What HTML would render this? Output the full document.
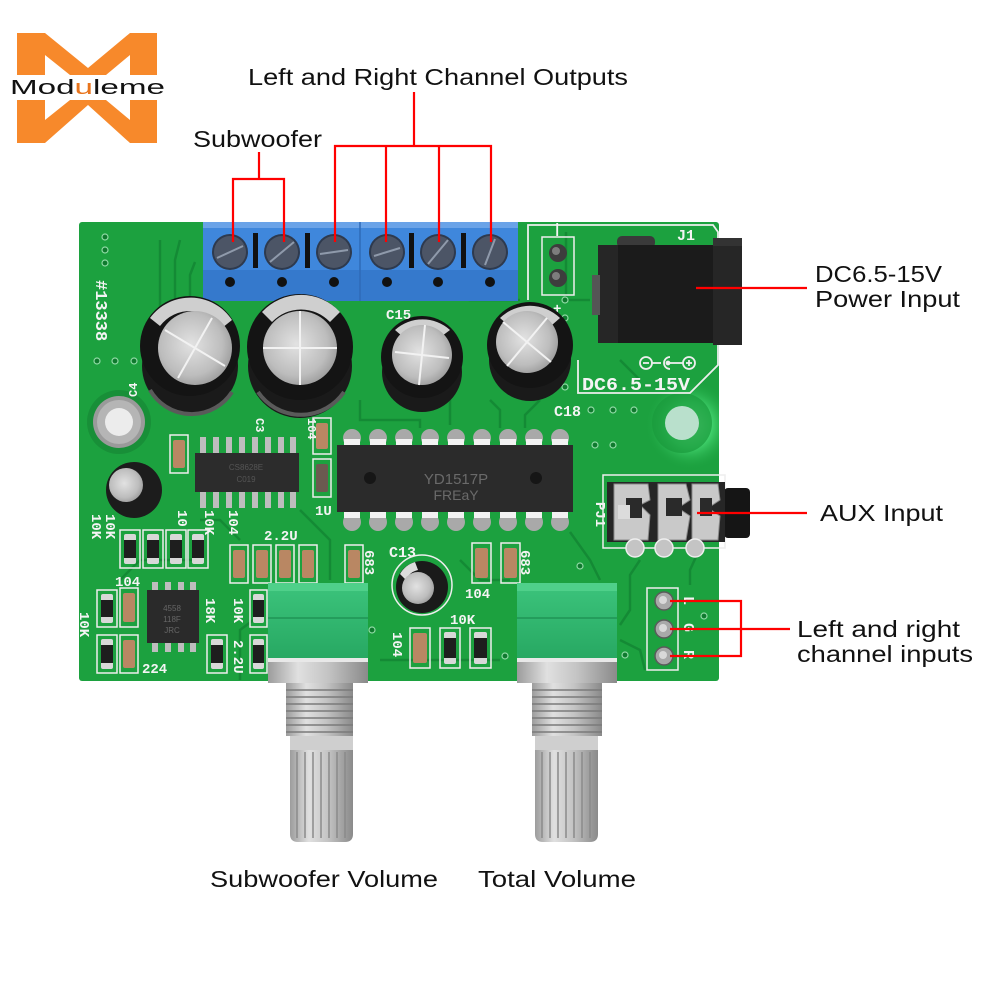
<!DOCTYPE html>
<html><head><meta charset="utf-8"><style>
html,body{margin:0;padding:0;background:#fff;}
svg{display:block;}
.lbl{font-family:"Liberation Sans",sans-serif;fill:#111;font-size:23px;}
.silk{font-family:"Liberation Mono","Liberation Sans",monospace;fill:#f4f4f4;font-weight:bold;}
</style></head><body>
<svg width="1000" height="1000" viewBox="0 0 1000 1000" xmlns="http://www.w3.org/2000/svg">
<defs>
<radialGradient id="silv" cx="0.45" cy="0.45" r="0.6">
<stop offset="0" stop-color="#e2e2e2"/><stop offset="0.7" stop-color="#bdbdbd"/><stop offset="1" stop-color="#9a9a9a"/>
</radialGradient>
<radialGradient id="glow" cx="0.5" cy="0.5" r="0.5">
<stop offset="0" stop-color="#7ef0a0"/><stop offset="0.5" stop-color="#3fcf6a"/><stop offset="1" stop-color="#1ca13f" stop-opacity="0"/>
</radialGradient>
<linearGradient id="metal" x1="0" x2="1" y1="0" y2="0">
<stop offset="0" stop-color="#9c9c9c"/><stop offset="0.3" stop-color="#e0e0e0"/><stop offset="0.6" stop-color="#c4c4c4"/><stop offset="1" stop-color="#8a8a8a"/>
</linearGradient>
<linearGradient id="potg" x1="0" x2="0" y1="0" y2="1">
<stop offset="0" stop-color="#3cc47c"/><stop offset="1" stop-color="#27a862"/>
</linearGradient>
<clipPath id="boardclip"><rect x="79" y="222" width="640" height="459"/></clipPath>
</defs>

<rect width="1000" height="1000" fill="#fff"/>

<!-- LOGO -->
<g fill="#f7892b">
<polygon points="17,33 45,33 88,68 130,33 157,33 157,75 130,75 130,55 106,75 70,75 45,55 45,75 17,75"/>
<polygon points="17,143 45,143 88,105 130,143 157,143 157,100 130,100 130,120 106,100 70,100 45,120 45,100 17,100"/>
</g>
<text x="10" y="94" font-family="Liberation Sans,sans-serif" font-size="20" textLength="155" lengthAdjust="spacingAndGlyphs" fill="#111">Mod<tspan fill="#e8741c">u</tspan>leme</text>

<!-- TOP LABELS -->
<text class="lbl" x="248" y="85" textLength="380" lengthAdjust="spacingAndGlyphs">Left and Right Channel Outputs</text>
<text class="lbl" x="193" y="147" textLength="129" lengthAdjust="spacingAndGlyphs">Subwoofer</text>

<!-- BOARD -->
<rect x="79" y="222" width="640" height="459" rx="3" fill="#1ca13f"/>
<g clip-path="url(#boardclip)">
<circle cx="690" cy="425" r="45" fill="url(#glow)"/>
</g>
<!-- traces / pours -->
<g fill="none" stroke="#138533" stroke-width="2.5" opacity="0.8">
<path d="M160 240 L160 320 L150 330"/>
<path d="M180 240 L175 260 L175 300"/>
<path d="M195 262 L190 275 L190 300"/>
<path d="M360 400 L360 420 L420 420 L420 428"/>
<path d="M450 395 L450 425"/>
<path d="M490 400 L500 410 L500 428"/>
<path d="M540 400 L525 415 L525 428"/>
<path d="M566 232 L566 300 L590 300"/>
<path d="M620 360 L640 380"/>
<path d="M200 520 L220 520 L240 540"/>
<path d="M300 510 L330 540 L330 580"/>
<path d="M120 580 L140 560 L200 560"/>
<path d="M640 560 L630 575 L630 610 L620 625"/>
<path d="M700 548 L690 570 L690 585"/>
<path d="M620 640 L640 650 L645 670"/>
<path d="M460 560 L480 580 L510 580"/>
<path d="M380 660 L500 660"/>
<path d="M240 680 L240 630 L260 615"/>
<path d="M570 532 L590 560 L600 580"/>
<path d="M470 270 L470 300 L520 300"/>
</g>

<!-- vias -->
<g fill="#0f7a2e" stroke="#8fd9a4" stroke-width="1.2">
<circle cx="105" cy="237" r="3"/><circle cx="105" cy="250" r="3"/><circle cx="105" cy="263" r="3"/>
<circle cx="97" cy="361" r="3"/><circle cx="115" cy="361" r="3"/><circle cx="134" cy="361" r="3"/>
<circle cx="591" cy="410" r="3"/><circle cx="613" cy="410" r="3"/><circle cx="634" cy="410" r="3"/>
<circle cx="595" cy="445" r="3"/><circle cx="613" cy="445" r="3"/>
<circle cx="704" cy="616" r="3"/><circle cx="625" cy="655" r="3"/>
<circle cx="565" cy="300" r="3"/><circle cx="565" cy="318" r="3"/>
<circle cx="565" cy="370" r="3"/><circle cx="565" cy="387" r="3"/>
<circle cx="580" cy="566" r="3"/><circle cx="372" cy="630" r="3"/><circle cx="505" cy="656" r="3"/>
</g>

<!-- mounting holes -->
<circle cx="119" cy="422" r="32" fill="#188f38"/>
<circle cx="119" cy="422" r="26" fill="#9a9a9a"/>
<circle cx="119" cy="422" r="22" fill="#b5b5b5"/>
<circle cx="119" cy="422" r="14" fill="#ececec"/>
<circle cx="682" cy="423" r="30" fill="#1a9a3c" opacity="0.7"/>
<circle cx="682" cy="423" r="17" fill="#b9e0cc"/>

<!-- #13338 -->
<text class="silk" font-size="17" transform="translate(96,280) rotate(90)" font-family="Liberation Sans,sans-serif">#13338</text>
<text class="silk" font-size="12" transform="translate(137,397) rotate(-90)">C4</text>

<!-- DC jack silkscreen -->
<polyline points="528,300 528,225 713,225 718,232 718,365 690,393 578,393 578,360" fill="none" stroke="#eee" stroke-width="1.8"/>
<rect x="542" y="237" width="32" height="58" fill="none" stroke="#eee" stroke-width="1.5"/>
<circle cx="558" cy="253" r="9" fill="#3d3d3d"/><circle cx="558" cy="278" r="9" fill="#3d3d3d"/>
<circle cx="556" cy="251" r="4" fill="#7d7d7d"/><circle cx="556" cy="276" r="4" fill="#7d7d7d"/>
<text class="silk" font-size="14" x="553" y="233">|</text>
<text class="silk" font-size="14" x="553" y="313">+</text>
<text class="silk" font-size="15" x="677" y="240">J1</text>
<g stroke="#eee" stroke-width="1.8" fill="none">
<circle cx="646" cy="363" r="6"/><line x1="643" y1="363" x2="649" y2="363"/>
<line x1="652" y1="363" x2="661" y2="363"/>
<path d="M670 357 A6 6 0 1 0 670 369"/><circle cx="668" cy="363" r="1.5" fill="#eee"/>
<line x1="670" y1="363" x2="683" y2="363"/>
<circle cx="689" cy="363" r="6"/><line x1="686" y1="363" x2="692" y2="363"/><line x1="689" y1="360" x2="689" y2="366"/>
</g>
<text class="silk" font-size="18" x="582" y="390" textLength="108" lengthAdjust="spacingAndGlyphs" font-weight="normal">DC6.5-15V</text>
<text class="silk" font-size="15" x="554" y="416" font-weight="normal">C18</text>

<!-- DC jack -->
<rect x="617" y="236" width="38" height="12" rx="5" fill="#3a3a3a"/>
<rect x="598" y="245" width="116" height="98" fill="#1b1b1b"/>
<rect x="598" y="245" width="20" height="98" fill="#262626"/>
<rect x="713" y="238" width="29" height="107" fill="#262626"/>
<rect x="713" y="238" width="29" height="8" fill="#333"/>
<rect x="592" y="275" width="8" height="40" fill="#555"/>

<!-- terminal blocks -->
<g>
<rect x="203" y="222" width="158" height="79" fill="#3f87dc"/>
<rect x="360" y="222" width="158" height="79" fill="#3f87dc"/>
<rect x="203" y="222" width="315" height="6" fill="#6aa3e8"/>
<rect x="203" y="270" width="315" height="31" fill="#3579cc"/>
<line x1="360" y1="222" x2="360" y2="301" stroke="#2e6ab8" stroke-width="1.5"/>
<g fill="#111">
<rect x="253" y="233" width="5" height="35"/><rect x="305" y="233" width="5" height="35"/>
<rect x="409" y="233" width="5" height="35"/><rect x="461" y="233" width="5" height="35"/>
<circle cx="230" cy="282" r="5"/><circle cx="282" cy="282" r="5"/><circle cx="334" cy="282" r="5"/>
<circle cx="387" cy="282" r="5"/><circle cx="438" cy="282" r="5"/><circle cx="490" cy="282" r="5"/>
</g>
<g>
<circle cx="230" cy="252" r="18" fill="#2e3a4e"/><circle cx="230" cy="252" r="16" fill="#4c5566"/>
<circle cx="282" cy="252" r="18" fill="#2e3a4e"/><circle cx="282" cy="252" r="16" fill="#4c5566"/>
<circle cx="334" cy="252" r="18" fill="#2e3a4e"/><circle cx="334" cy="252" r="16" fill="#4c5566"/>
<circle cx="387" cy="252" r="18" fill="#2e3a4e"/><circle cx="387" cy="252" r="16" fill="#4c5566"/>
<circle cx="438" cy="252" r="18" fill="#2e3a4e"/><circle cx="438" cy="252" r="16" fill="#4c5566"/>
<circle cx="490" cy="252" r="18" fill="#2e3a4e"/><circle cx="490" cy="252" r="16" fill="#4c5566"/>
</g>
<g stroke="#8f9aab" stroke-width="2">
<line x1="217" y1="258" x2="243" y2="246"/><line x1="270" y1="262" x2="294" y2="242"/>
<line x1="320" y1="254" x2="348" y2="250"/><line x1="374" y1="256" x2="400" y2="248"/>
<line x1="428" y1="264" x2="448" y2="240"/><line x1="485" y1="265" x2="495" y2="239"/>
</g>
</g>

<!-- big capacitors -->
<g>
<circle cx="190" cy="366" r="48" fill="#1a1a1a"/>
<path d="M150 390 A48 48 0 0 0 232 392" fill="none" stroke="#5a5a5a" stroke-width="4"/>
<circle cx="190" cy="346" r="50" fill="#141414"/>
<path d="M150 318 A50 50 0 0 1 232 320 L222 328 A38 38 0 0 0 160 326 Z" fill="#cfcfcf"/>
<circle cx="195" cy="348" r="37" fill="url(#silv)"/>
<line x1="165" y1="330" x2="225" y2="366" stroke="#f2f2f2" stroke-width="2"/>
<line x1="212" y1="318" x2="178" y2="378" stroke="#f2f2f2" stroke-width="2"/>

<circle cx="300" cy="366" r="52" fill="#1a1a1a"/>
<path d="M258 392 A52 52 0 0 0 344 392" fill="none" stroke="#5a5a5a" stroke-width="4"/>
<circle cx="300" cy="347" r="53" fill="#141414"/>
<path d="M262 312 A53 53 0 0 1 340 312 L330 322 A40 40 0 0 0 272 322 Z" fill="#cfcfcf"/>
<circle cx="300" cy="348" r="37" fill="url(#silv)"/>
<line x1="263" y1="348" x2="337" y2="348" stroke="#f2f2f2" stroke-width="2"/>
<line x1="300" y1="311" x2="300" y2="385" stroke="#f2f2f2" stroke-width="2"/>

<circle cx="422" cy="372" r="40" fill="#1a1a1a"/>
<circle cx="422" cy="357" r="41" fill="#141414"/>
<path d="M395 330 A41 41 0 0 1 450 330 L442 336 A31 31 0 0 0 402 336 Z" fill="#cfcfcf"/>
<circle cx="422" cy="355" r="30" fill="url(#silv)"/>
<line x1="395" y1="352" x2="449" y2="358" stroke="#f2f2f2" stroke-width="2"/>
<line x1="425" y1="325" x2="419" y2="385" stroke="#f2f2f2" stroke-width="2"/>

<circle cx="530" cy="360" r="41" fill="#1a1a1a"/>
<circle cx="530" cy="345" r="43" fill="#141414"/>
<path d="M500 318 A43 43 0 0 1 560 318 L552 325 A32 32 0 0 0 508 325 Z" fill="#cfcfcf"/>
<circle cx="527" cy="342" r="31" fill="url(#silv)"/>
<line x1="503" y1="322" x2="551" y2="362" stroke="#f2f2f2" stroke-width="2"/>
<line x1="547" y1="318" x2="507" y2="366" stroke="#f2f2f2" stroke-width="2"/>
</g>
<text class="silk" font-size="14" x="386" y="319" font-weight="normal">C15</text>
<text class="silk" font-size="12" transform="translate(256,418) rotate(90)">C3</text>
<text class="silk" font-size="12" transform="translate(308,418) rotate(90)">104</text>

<!-- small cap left -->
<circle cx="134" cy="490" r="28" fill="#1c1c1c"/>
<circle cx="126" cy="485" r="17" fill="url(#silv)"/>

<!-- IC CS8628E -->
<g fill="#bdbdbd">
<rect x="200" y="437" width="6" height="16"/><rect x="213" y="437" width="6" height="16"/><rect x="226" y="437" width="6" height="16"/><rect x="239" y="437" width="6" height="16"/>
<rect x="252" y="437" width="6" height="16"/><rect x="265" y="437" width="6" height="16"/><rect x="278" y="437" width="6" height="16"/><rect x="290" y="437" width="6" height="16"/>
<rect x="200" y="492" width="6" height="16"/><rect x="213" y="492" width="6" height="16"/><rect x="226" y="492" width="6" height="16"/><rect x="239" y="492" width="6" height="16"/>
<rect x="252" y="492" width="6" height="16"/><rect x="265" y="492" width="6" height="16"/><rect x="278" y="492" width="6" height="16"/><rect x="290" y="492" width="6" height="16"/>
</g>
<rect x="195" y="453" width="104" height="39" fill="#2c2c2c"/>
<text x="246" y="470" font-family="Liberation Sans,sans-serif" font-size="8" fill="#555" text-anchor="middle">CS8628E</text>
<text x="246" y="482" font-family="Liberation Sans,sans-serif" font-size="8" fill="#555" text-anchor="middle">C019</text>

<!-- IC YD1517P -->
<g>
<g fill="#a9a9a9">
<circle cx="352" cy="438" r="9"/><circle cx="378" cy="438" r="9"/><circle cx="404" cy="438" r="9"/><circle cx="430" cy="438" r="9"/><circle cx="456" cy="438" r="9"/>
<circle cx="482" cy="438" r="9"/><circle cx="508" cy="438" r="9"/><circle cx="534" cy="438" r="9"/><circle cx="560" cy="438" r="9"/>
<circle cx="352" cy="522" r="9"/><circle cx="378" cy="522" r="9"/><circle cx="404" cy="522" r="9"/><circle cx="430" cy="522" r="9"/><circle cx="456" cy="522" r="9"/>
<circle cx="482" cy="522" r="9"/><circle cx="508" cy="522" r="9"/><circle cx="534" cy="522" r="9"/><circle cx="560" cy="522" r="9"/>
</g>
<g fill="#f2f2f2">
<rect x="344" y="439" width="16" height="6"/><rect x="370" y="439" width="16" height="6"/><rect x="396" y="439" width="16" height="6"/><rect x="422" y="439" width="16" height="6"/><rect x="448" y="439" width="16" height="6"/>
<rect x="474" y="439" width="16" height="6"/><rect x="500" y="439" width="16" height="6"/><rect x="526" y="439" width="16" height="6"/><rect x="552" y="439" width="16" height="6"/>
<rect x="344" y="512" width="16" height="6"/><rect x="370" y="512" width="16" height="6"/><rect x="396" y="512" width="16" height="6"/><rect x="422" y="512" width="16" height="6"/><rect x="448" y="512" width="16" height="6"/>
<rect x="474" y="512" width="16" height="6"/><rect x="500" y="512" width="16" height="6"/><rect x="526" y="512" width="16" height="6"/><rect x="552" y="512" width="16" height="6"/>
</g>
<rect x="337" y="445" width="236" height="67" fill="#2b2b2b"/>
<circle cx="370" cy="478" r="6" fill="#161616"/><circle cx="536" cy="478" r="6" fill="#161616"/>
<text x="456" y="484" font-family="Liberation Sans,sans-serif" font-size="15" fill="#6a6a6a" text-anchor="middle">YD1517P</text>
<text x="456" y="500" font-family="Liberation Sans,sans-serif" font-size="14" fill="#6a6a6a" text-anchor="middle">FREaY</text>
</g>

<!-- SMD outlines -->
<g stroke="#eee" stroke-width="1.5" fill="none">
<rect x="170" y="435" width="18" height="38"/>
<rect x="313" y="418" width="18" height="36"/>
<rect x="313" y="459" width="18" height="38"/>
<rect x="230" y="545" width="18" height="38"/>
<rect x="253" y="545" width="18" height="38"/>
<rect x="276" y="545" width="18" height="38"/>
<rect x="299" y="545" width="18" height="38"/>
<rect x="345" y="545" width="18" height="38"/>
<rect x="472" y="543" width="19" height="40"/>
<rect x="501" y="543" width="19" height="40"/>
<rect x="120" y="588" width="18" height="39"/>
<rect x="120" y="635" width="18" height="38"/>
<rect x="410" y="628" width="20" height="40"/>
<rect x="120" y="530" width="20" height="38"/>
<rect x="143" y="530" width="20" height="38"/>
<rect x="166" y="530" width="20" height="38"/>
<rect x="188" y="530" width="20" height="38"/>
<rect x="97" y="590" width="20" height="37"/>
<rect x="97" y="635" width="20" height="38"/>
<rect x="207" y="635" width="20" height="38"/>
<rect x="440" y="628" width="20" height="40"/>
<rect x="470" y="628" width="21" height="40"/>
<rect x="250" y="590" width="17" height="37"/>
<rect x="250" y="635" width="17" height="38"/>
</g>
<g fill="#b98763">
<rect x="173" y="440" width="12" height="28" rx="2"/>
<rect x="316" y="423" width="12" height="26" rx="2"/>
<rect x="316" y="464" width="12" height="28" rx="2" fill="#6b5a50"/>
<rect x="233" y="550" width="12" height="28" rx="2"/>
<rect x="256" y="550" width="12" height="28" rx="2"/>
<rect x="279" y="550" width="12" height="28" rx="2"/>
<rect x="302" y="550" width="12" height="28" rx="2"/>
<rect x="348" y="550" width="12" height="28" rx="2"/>
<rect x="475" y="548" width="13" height="30" rx="2"/>
<rect x="504" y="548" width="13" height="30" rx="2"/>
<rect x="123" y="593" width="12" height="29" rx="2"/>
<rect x="123" y="640" width="12" height="28" rx="2"/>
<rect x="413" y="633" width="14" height="30" rx="2"/>
</g>
<g>
<g fill="#d8d8d8">
<rect x="124" y="534" width="12" height="30" rx="2"/><rect x="147" y="534" width="12" height="30" rx="2"/>
<rect x="170" y="534" width="12" height="30" rx="2"/><rect x="192" y="534" width="12" height="30" rx="2"/>
<rect x="101" y="594" width="12" height="29" rx="2"/><rect x="101" y="639" width="12" height="30" rx="2"/>
<rect x="211" y="639" width="12" height="30" rx="2"/><rect x="444" y="632" width="12" height="32" rx="2"/>
<rect x="474" y="632" width="13" height="32" rx="2"/><rect x="253" y="594" width="11" height="29" rx="2"/>
<rect x="253" y="639" width="11" height="30" rx="2"/>
</g>
<g fill="#1e1e1e">
<rect x="124" y="540" width="12" height="18"/><rect x="147" y="540" width="12" height="18"/>
<rect x="170" y="540" width="12" height="18"/><rect x="192" y="540" width="12" height="18"/>
<rect x="101" y="600" width="12" height="17"/><rect x="101" y="645" width="12" height="18"/>
<rect x="211" y="645" width="12" height="18"/><rect x="444" y="638" width="12" height="20"/>
<rect x="474" y="638" width="13" height="20"/><rect x="253" y="600" width="11" height="17"/>
<rect x="253" y="645" width="11" height="18"/>
</g>
</g>

<!-- 4558 IC -->
<g fill="#bdbdbd">
<rect x="152" y="582" width="6" height="9"/><rect x="165" y="582" width="6" height="9"/><rect x="178" y="582" width="6" height="9"/><rect x="190" y="582" width="6" height="9"/>
<rect x="152" y="642" width="6" height="10"/><rect x="165" y="642" width="6" height="10"/><rect x="178" y="642" width="6" height="10"/><rect x="190" y="642" width="6" height="10"/>
</g>
<rect x="147" y="590" width="52" height="53" fill="#2a2a2a"/>
<text x="172" y="611" font-family="Liberation Sans,sans-serif" font-size="8" fill="#666" text-anchor="middle">4558</text>
<text x="172" y="622" font-family="Liberation Sans,sans-serif" font-size="8" fill="#666" text-anchor="middle">118F</text>
<text x="172" y="633" font-family="Liberation Sans,sans-serif" font-size="8" fill="#666" text-anchor="middle">JRC</text>

<!-- silkscreen labels -->
<g class="silk" font-weight="normal">
<text font-size="14" transform="translate(92,514) rotate(90)">10K</text>
<text font-size="14" transform="translate(106,514) rotate(90)">10K</text>
<text font-size="14" transform="translate(178,510) rotate(90)">10</text>
<text font-size="14" transform="translate(205,510) rotate(90)">10K</text>
<text font-size="14" transform="translate(229,510) rotate(90)">104</text>
<text font-size="14" x="115" y="586">104</text>
<text font-size="14" transform="translate(80,612) rotate(90)">10K</text>
<text font-size="14" x="142" y="673">224</text>
<text font-size="14" transform="translate(206,598) rotate(90)">18K</text>
<text font-size="14" transform="translate(234,598) rotate(90)">10K</text>
<text font-size="14" transform="translate(234,640) rotate(90)">2.2U</text>
<text font-size="14" x="264" y="540">2.2U</text>
<text font-size="14" x="315" y="515">1U</text>
<text font-size="14" transform="translate(365,550) rotate(90)">683</text>
<text font-size="14" transform="translate(521,550) rotate(90)">683</text>
<text font-size="15" x="389" y="557">C13</text>
<text font-size="14" x="465" y="598">104</text>
<text font-size="14" x="450" y="624">10K</text>
<text font-size="14" transform="translate(393,632) rotate(90)">104</text>
<text font-size="14" transform="translate(596,502) rotate(90)">PJ1</text>
</g>

<!-- C13 -->
<circle cx="422" cy="585" r="30" fill="none" stroke="#eee" stroke-width="1.5"/>
<circle cx="422" cy="587" r="26" fill="#1a1a1a"/>
<path d="M400 574 A26 26 0 0 1 415 562 L418 570 A17 17 0 0 0 406 580 Z" fill="#ddd"/>
<circle cx="418" cy="588" r="16" fill="url(#silv)"/>

<!-- AUX jack -->
<rect x="603" y="475" width="122" height="73" fill="none" stroke="#eee" stroke-width="1.5"/>
<rect x="724" y="488" width="26" height="50" rx="4" fill="#151515"/>
<rect x="607" y="482" width="118" height="60" fill="#262626"/>
<g fill="#c9c9c9" stroke="#8a8a8a" stroke-width="1">
<path d="M614 484 L648 484 L650 500 L640 505 L650 515 L648 540 L614 540 Z"/>
<path d="M658 484 L686 484 L690 500 L678 508 L690 516 L686 540 L658 540 Z"/>
<path d="M692 484 L718 484 L720 500 L708 508 L720 516 L718 540 L692 540 Z"/>
</g>
<g fill="#2a2a2a">
<rect x="626" y="498" width="16" height="20"/><rect x="666" y="498" width="16" height="18"/><rect x="700" y="498" width="12" height="18"/>
</g>
<rect x="618" y="505" width="12" height="14" fill="#dcdcdc"/>
<g fill="#c4c4c4" stroke="#eee" stroke-width="1.5">
<circle cx="635" cy="548" r="9"/><circle cx="664" cy="548" r="9"/><circle cx="695" cy="548" r="9"/>
</g>

<!-- L G R header -->
<rect x="647" y="588" width="31" height="82" fill="none" stroke="#eee" stroke-width="1.5"/>
<g fill="#a9a9a9" stroke="#5b5b5b" stroke-width="1.5">
<circle cx="664" cy="601" r="9"/><circle cx="664" cy="629" r="9"/><circle cx="664" cy="656" r="9"/>
</g>
<g fill="#d9d9d9"><circle cx="663" cy="600" r="4"/><circle cx="663" cy="628" r="4"/><circle cx="663" cy="655" r="4"/></g>
<g class="silk" font-weight="normal" font-size="15">
<text transform="translate(684,596) rotate(90)">L</text>
<text transform="translate(684,623) rotate(90)">G</text>
<text transform="translate(684,650) rotate(90)">R</text>
</g>

<!-- potentiometers -->
<g>
<rect x="268" y="583" width="100" height="76" fill="url(#potg)"/>
<rect x="268" y="583" width="100" height="8" fill="#4fd08a"/>
<line x1="268" y1="618" x2="368" y2="618" stroke="#1f9455" stroke-width="1.5"/>
<rect x="268" y="658" width="100" height="25" fill="url(#metal)"/>
<rect x="268" y="658" width="100" height="4" fill="#e8e8e8"/>
<rect x="286" y="683" width="67" height="53" fill="url(#metal)"/>
<g stroke="#7a7a7a" stroke-width="1.5">
<line x1="286" y1="690" x2="353" y2="690"/><line x1="286" y1="697" x2="353" y2="697"/><line x1="286" y1="704" x2="353" y2="704"/>
<line x1="286" y1="711" x2="353" y2="711"/><line x1="286" y1="718" x2="353" y2="718"/><line x1="286" y1="725" x2="353" y2="725"/><line x1="286" y1="732" x2="353" y2="732"/>
</g>
<path d="M290 736 L353 736 L353 834 Q353 842 345 842 L298 842 Q290 842 290 834 Z" fill="url(#metal)"/>
<rect x="290" y="736" width="63" height="14" fill="#cfcfcf"/>
<g stroke="#8a8a8a" stroke-width="1.5">
<line x1="297" y1="752" x2="297" y2="838"/><line x1="305" y1="752" x2="305" y2="838"/><line x1="313" y1="752" x2="313" y2="838"/>
<line x1="321" y1="752" x2="321" y2="838"/><line x1="329" y1="752" x2="329" y2="838"/><line x1="337" y1="752" x2="337" y2="838"/><line x1="345" y1="752" x2="345" y2="838"/>
</g>

<rect x="517" y="583" width="100" height="76" fill="url(#potg)"/>
<rect x="517" y="583" width="100" height="8" fill="#4fd08a"/>
<line x1="517" y1="618" x2="617" y2="618" stroke="#1f9455" stroke-width="1.5"/>
<rect x="517" y="658" width="100" height="25" fill="url(#metal)"/>
<rect x="517" y="658" width="100" height="4" fill="#e8e8e8"/>
<rect x="532" y="683" width="70" height="53" fill="url(#metal)"/>
<g stroke="#7a7a7a" stroke-width="1.5">
<line x1="532" y1="690" x2="602" y2="690"/><line x1="532" y1="697" x2="602" y2="697"/><line x1="532" y1="704" x2="602" y2="704"/>
<line x1="532" y1="711" x2="602" y2="711"/><line x1="532" y1="718" x2="602" y2="718"/><line x1="532" y1="725" x2="602" y2="725"/><line x1="532" y1="732" x2="602" y2="732"/>
</g>
<path d="M535 736 L598 736 L598 834 Q598 842 590 842 L543 842 Q535 842 535 834 Z" fill="url(#metal)"/>
<rect x="535" y="736" width="63" height="14" fill="#cfcfcf"/>
<g stroke="#8a8a8a" stroke-width="1.5">
<line x1="542" y1="752" x2="542" y2="838"/><line x1="550" y1="752" x2="550" y2="838"/><line x1="558" y1="752" x2="558" y2="838"/>
<line x1="566" y1="752" x2="566" y2="838"/><line x1="574" y1="752" x2="574" y2="838"/><line x1="582" y1="752" x2="582" y2="838"/><line x1="590" y1="752" x2="590" y2="838"/>
</g>
</g>

<!-- RED CALLOUTS -->
<g stroke="#ff0000" stroke-width="2.2" fill="none">
<polyline points="414,92 414,146"/>
<polyline points="335,242 335,146 491,146 491,242"/>
<line x1="386" y1="146" x2="386" y2="242"/>
<line x1="439" y1="146" x2="439" y2="242"/>
<polyline points="259,152 259,179"/>
<polyline points="233,242 233,179 284,179 284,242"/>
<line x1="696" y1="288" x2="807" y2="288"/>
<line x1="697" y1="513" x2="807" y2="513"/>
<polyline points="670,601 741,601 741,656 670,656"/>
<line x1="670" y1="629" x2="790" y2="629"/>
</g>

<!-- RIGHT LABELS -->
<text class="lbl" x="815" y="282" textLength="127" lengthAdjust="spacingAndGlyphs">DC6.5-15V</text>
<text class="lbl" x="815" y="307" textLength="145" lengthAdjust="spacingAndGlyphs">Power Input</text>
<text class="lbl" x="820" y="521" textLength="123" lengthAdjust="spacingAndGlyphs">AUX Input</text>
<text class="lbl" x="797" y="637" textLength="163" lengthAdjust="spacingAndGlyphs">Left and right</text>
<text class="lbl" x="797" y="662" textLength="176" lengthAdjust="spacingAndGlyphs">channel inputs</text>

<!-- BOTTOM LABELS -->
<text class="lbl" x="210" y="887" textLength="228" lengthAdjust="spacingAndGlyphs">Subwoofer Volume</text>
<text class="lbl" x="478" y="887" textLength="158" lengthAdjust="spacingAndGlyphs">Total Volume</text>
</svg>
</body></html>
